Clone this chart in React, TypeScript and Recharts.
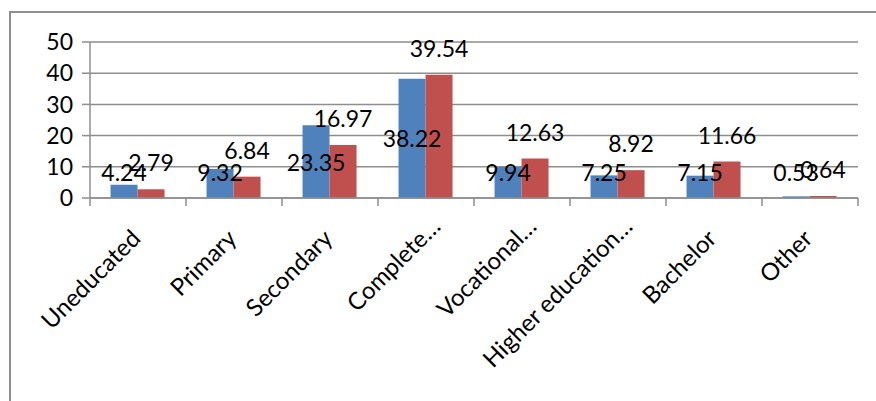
import { BarChart, Bar, XAxis, YAxis, CartesianGrid, LabelList } from 'recharts';

const CATEGORIES = [
  'Uneducated',
  'Primary',
  'Secondary',
  'Complete…',
  'Vocational…',
  'Higher education…',
  'Bachelor',
  'Other',
];
const SERIES_A = [4.24, 9.32, 23.35, 38.22, 9.94, 7.25, 7.15, 0.53];
const SERIES_B = [2.79, 6.84, 16.97, 39.54, 12.63, 8.92, 11.66, 0.64];
const Y_TICKS = [0, 10, 20, 30, 40, 50];

const W = 876;
const H = 401;
const MARGIN = { top: 42, right: 18, bottom: 0, left: 0 };
const Y_AXIS_W = 90;
const X_AXIS_H = 203;
const PLOT_W = W - MARGIN.left - MARGIN.right - Y_AXIS_W;

const FONT = 'Lato, "Open Sans", sans-serif';
const AXIS = '#8e8e8e';

const data = CATEGORIES.map((name, i) => ({ name, a: SERIES_A[i], b: SERIES_B[i] }));

// category ticks: labels at 45°, tick marks on the band edges like Excel
function CategoryTick(props: any) {
  const { x, y, payload, index } = props;
  const band = PLOT_W / CATEGORIES.length;
  const label: string = payload.value;
  const clipped = label.endsWith('…');
  const ax = x + (clipped ? 16 : 4);
  const ay = y + (clipped ? 22 : 34);
  return (
    <g>
      <line x1={x - band / 2} x2={x - band / 2} y1={y - 8} y2={y} stroke={AXIS} strokeWidth={1.5} />
      {index === CATEGORIES.length - 1 && (
        <line x1={x + band / 2} x2={x + band / 2} y1={y - 8} y2={y} stroke={AXIS} strokeWidth={1.5} />
      )}
      <text
        x={ax}
        y={ay}
        textAnchor="end"
        transform={`rotate(-45, ${ax}, ${ay})`}
        fill="#000"
        fontSize={24}
        fontFamily={FONT}
      >
        {label}
      </text>
    </g>
  );
}

// first series: centred in the bar, kept clear of the axis for short bars
function CenterLabel(props: any) {
  const { x, y, width, height, value } = props;
  const cy = Math.min(y + height / 2, y + height - 26);
  return (
    <text x={x + width / 2} y={cy} textAnchor="middle" dominantBaseline="central" fill="#000" fontSize={23} fontFamily={FONT}>
      {value}
    </text>
  );
}

// second series: above the bar end
function TopLabel(props: any) {
  const { x, y, width, value } = props;
  return (
    <text x={x + width / 2} y={y - 27} textAnchor="middle" dominantBaseline="central" fill="#000" fontSize={23} fontFamily={FONT}>
      {value}
    </text>
  );
}

export default function App() {
  return (
    <div style={{ position: 'fixed', left: 0, top: 0, width: W, height: H, background: '#fff', overflow: 'hidden' }}>
      <div
        style={{
          position: 'absolute',
          left: 9,
          top: 11,
          width: W + 40,
          height: H + 40,
          border: '2px solid #8f8f8f',
          boxSizing: 'border-box',
        }}
      />
      <div style={{ position: 'absolute', left: 0, top: 0 }}>
        <BarChart
          width={W}
          height={H}
          data={data}
          margin={MARGIN}
          barCategoryGap="21.4%"
          barGap={0}
        >
          <CartesianGrid vertical={false} stroke={AXIS} strokeWidth={1.5} />
          <XAxis
            dataKey="name"
            interval={0}
            height={X_AXIS_H}
            tickLine={false}
            tickSize={8}
            tickMargin={0}
            axisLine={{ stroke: AXIS, strokeWidth: 1.5 }}
            tick={<CategoryTick />}
          />
          <YAxis
            width={Y_AXIS_W}
            domain={[0, 50]}
            ticks={Y_TICKS}
            interval={0}
            tickSize={8}
            tickMargin={9}
            tickLine={{ stroke: AXIS, strokeWidth: 1.5 }}
            axisLine={{ stroke: AXIS, strokeWidth: 1.5 }}
            tick={{ fill: '#000', fontSize: 23, fontFamily: FONT }}
          />
          <Bar dataKey="a" fill="#4F81BD" isAnimationActive={false}>
            <LabelList dataKey="a" content={<CenterLabel />} />
          </Bar>
          <Bar dataKey="b" fill="#C0504D" isAnimationActive={false}>
            <LabelList dataKey="b" content={<TopLabel />} />
          </Bar>
        </BarChart>
      </div>
    </div>
  );
}
